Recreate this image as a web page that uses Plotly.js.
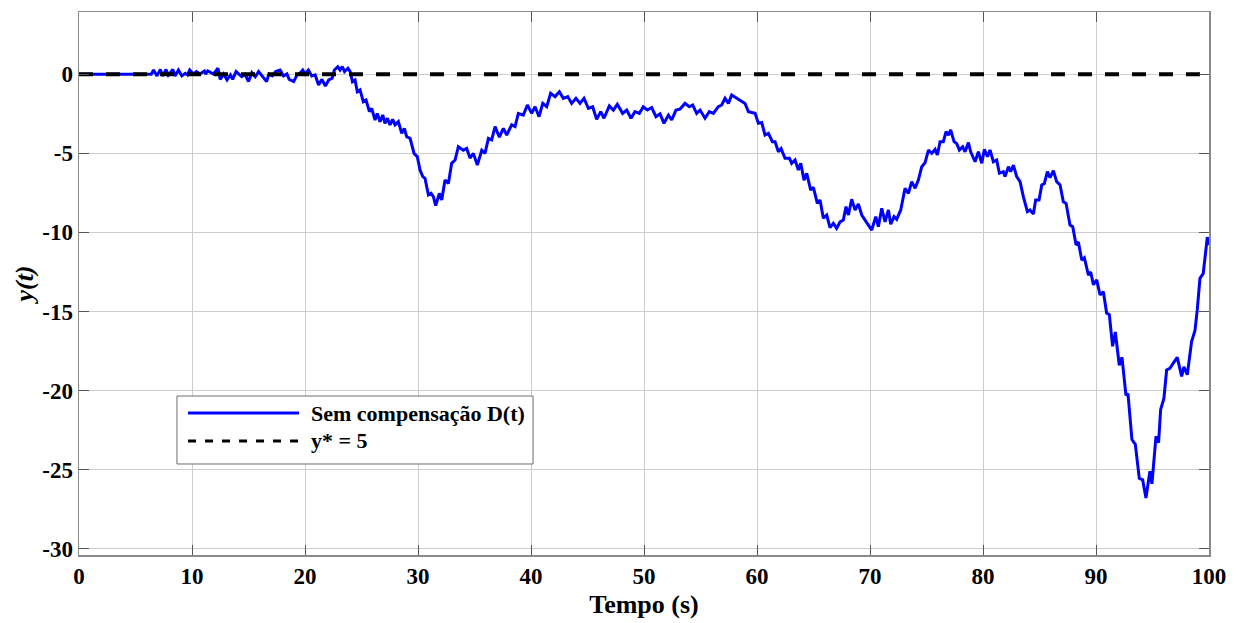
<!DOCTYPE html>
<html>
<head>
<meta charset="utf-8">
<script src="https://cdn.plot.ly/plotly-3.0.1.min.js"></script>
<style>html,body{margin:0;padding:0;background:#fff;}#chart{width:1243px;height:623px;}
#chart .xtick text, #chart .ytick text{font-weight:bold !important;}</style>
</head>
<body>
<div id="chart"></div>
<script>
// Time (s)
const timeS = [0,6.4,6.6,6.9,7.2,7.4,7.7,7.9,8.3,8.5,8.8,9.1,9.4,9.6,9.8,10.1,10.4,10.7,11.1,11.2,11.4,11.9,
 12.3,12.5,12.8,13.1,13.4,13.6,13.9,14.2,14.4,14.7,15.0,15.3,15.6,15.9,16.2,16.6,16.8,17.1,17.4,17.8,18.1,18.4,18.6,19.0,19.3,19.6,19.8,
 20.0,20.3,20.6,20.9,21.2,21.5,21.8,22.1,22.4,22.6,22.9,23.1,23.3,23.5,23.8,24.0,
 24.2,24.43,24.63,24.87,25.16,25.4,25.7,25.9,26.2,26.4,26.64,26.88,27.08,27.29,27.52,27.76,27.97,28.26,28.56,28.79,29.0,29.3,29.44,29.65,
 29.94,30.18,30.42,30.62,30.92,31.15,31.36,31.57,31.89,32.1,32.39,32.69,32.98,33.28,33.57,
 34.01,34.31,34.6,34.9,35.25,35.64,35.93,36.23,36.52,36.82,37.2,37.55,37.85,38.29,38.59,38.88,39.32,39.68,40.06,40.36,40.71,41.04,41.39,
 41.74,42.13,42.51,42.86,43.25,43.6,43.98,44.34,44.69,45.08,45.46,45.81,46.17,46.46,46.93,47.29,47.64,48.11,48.47,48.85,49.2,49.59,49.94,
 50.3,50.68,51.06,51.42,51.77,52.16,52.45,52.83,53.19,53.63,54.01,54.31,54.66,54.96,55.4,55.78,56.14,56.58,56.88,57.17,57.47,57.76,58.2,
 58.5,58.94,59.24,59.83,60.12,60.42,60.71,61.01,61.36,61.6,61.89,62.13,62.48,62.87,63.07,63.37,63.66,63.87,64.16,64.4,64.75,64.99,65.34,
 65.58,65.87,66.17,66.46,66.76,67.05,67.35,67.64,67.88,68.09,68.38,68.68,68.97,69.27,69.56,69.86,70.15,70.51,70.74,71.04,71.33,71.63,71.83,
 72.13,72.36,72.72,73.1,73.4,73.69,73.99,74.28,74.58,74.87,75.17,75.46,75.76,75.96,76.2,76.49,76.73,76.94,77.14,77.44,77.67,77.91,78.2,
 78.41,78.71,78.91,79.3,79.59,79.89,80.12,80.39,80.62,80.92,81.21,81.45,81.8,81.95,82.25,82.45,82.69,82.98,83.28,83.57,83.93,84.16,84.46,
 84.66,84.96,85.2,85.43,85.7,85.93,86.23,86.52,86.82,87.11,87.35,87.7,87.94,88.24,88.44,88.74,88.97,89.33,89.53,89.77,90.06,90.36,90.65,
 90.94,91.18,91.47,91.71,92.06,92.3,92.65,92.83,93.18,93.48,93.83,94.13,94.42,94.77,94.95,95.31,95.54,95.72,96.01,96.25,96.54,96.9,97.19,
 97.58,97.78,98.08,98.46,98.76,98.96,99.2,99.49,99.85,100];
// y(t) without compensation D(t)
const ySemCompensacao = [0,0,0.27,-0.1,0.3,-0.1,0.3,-0.05,0.3,-0.1,0.27,-0.1,0.06,-0.04,0.27,0.02,0.17,0.02,0.21,0.02,0.21,0.02,
 0.38,-0.32,0.02,-0.36,-0.04,-0.32,0.17,-0.04,-0.15,0,-0.46,0.1,-0.15,0.17,-0.1,-0.46,0.02,-0.1,0.17,0.27,-0.1,0.02,-0.32,-0.46,-0.04,0.1,0.27,
 0.02,0.27,-0.1,-0.04,-0.67,-0.32,-0.74,-0.36,-0.25,0.27,0.48,0.27,0.48,0.17,0.38,0.17,
 -0.47,-0.36,-1.1,-0.99,-1.73,-1.63,-2.36,-2.15,-2.89,-2.47,-3.0,-2.57,-3.1,-2.78,-3.2,-2.85,-3.2,-2.99,-3.73,-3.42,-3.95,-4.05,-4.47,-5.0,
 -5.21,-6.05,-6.47,-6.58,-7.63,-7.53,-7.74,-8.31,-7.53,-7.95,-6.69,-6.9,-5.63,-5.42,-4.58,
 -4.8,-4.69,-5.3,-5.0,-5.74,-4.8,-5.0,-4.05,-4.15,-3.31,-3.98,-3.42,-3.84,-3.2,-3.31,-2.47,-2.58,-1.94,-2.47,-2.05,-2.68,-1.84,-2.05,
 -1.2,-1.41,-1.1,-1.52,-1.41,-1.84,-1.52,-1.84,-1.52,-2.15,-2.05,-2.85,-2.36,-2.78,-2.0,-2.26,-1.9,-2.47,-2.26,-2.78,-2.36,-2.47,-2.05,
 -2.26,-2.1,-2.68,-2.5,-3.1,-2.58,-2.89,-2.26,-2.2,-1.84,-2.05,-1.94,-2.47,-2.26,-2.78,-2.36,-2.47,-2.05,-1.94,-1.52,-1.84,-1.31,-1.52,
 -1.63,-1.84,-2.36,-2.47,-3.1,-3.05,-3.84,-3.73,-4.26,-4.26,-4.9,-4.7,-5.31,-5.31,-5.63,-5.42,-6.05,-5.63,-6.69,-6.26,-7.32,-7.15,-8.16,
 -7.95,-9.1,-8.9,-9.7,-9.43,-9.74,-9.33,-9.22,-8.37,-8.9,-7.9,-8.58,-8.2,-8.9,-9.22,-9.53,-9.85,-9.0,-9.64,-8.48,-9.33,-8.58,-9.48,
 -9.0,-9.17,-8.58,-7.21,-7.53,-6.79,-7.21,-6.69,-5.84,-5.6,-4.79,-5.0,-4.75,-5.1,-4.26,-4.26,-3.63,-3.84,-3.52,-4.26,-4.37,-4.79,-4.58,
 -4.9,-4.32,-4.9,-5.53,-4.9,-5.63,-4.75,-5.21,-4.79,-5.53,-5.42,-6.26,-6.16,-6.47,-5.84,-6.16,-5.74,-6.47,-6.79,-7.74,-8.69,-8.58,-8.84,
 -7.95,-7.95,-7.0,-6.9,-6.16,-6.53,-6.1,-6.79,-7.0,-8.06,-8.16,-9.53,-9.64,-10.8,-10.6,-11.75,-11.6,-12.7,-12.5,-13.3,-13.0,-13.96,-13.75,
 -15.1,-15.2,-17.2,-16.3,-18.4,-17.9,-20.3,-20.2,-23.1,-23.4,-25.55,-25.65,-26.8,-25.1,-25.9,-22.9,-23.3,-21.2,-20.5,-18.7,-18.6,-18.2,-17.9,
 -19.1,-18.5,-19.0,-16.9,-16.2,-14.9,-12.9,-12.6,-10.3,-10.8];
// Reference y*
const refTime = [0, 100];
const refValue = [0, 0];
const legendLabels = ["Sem compensação D(t)", "y* = 5"];
const xTickVals = [0,10,20,30,40,50,60,70,80,90,100];
const yTickVals = [-30,-25,-20,-15,-10,-5,0];

const FONT = "Liberation Serif";

const traces = [
  {x: timeS, y: ySemCompensacao, type: 'scatter', mode: 'lines', name: legendLabels[0],
   line: {color: '#0000ff', width: 3}, showlegend: false},
  {x: refTime, y: refValue, type: 'scatter', mode: 'lines', name: legendLabels[1],
   line: {color: '#000000', width: 4, dash: '14px,13px'}, showlegend: false}
];

const axisCommon = {
  showgrid: true, gridcolor: '#cdcdcd', gridwidth: 1,
  zeroline: false, showline: true, linecolor: '#8a8a8a', linewidth: 1.5,
  mirror: 'ticks', ticks: 'inside', ticklen: 10, tickcolor: '#555', tickwidth: 1,
  tickfont: {family: FONT, size: 23, color: '#000', weight: 'bold'}
};

const layout = {
  width: 1243, height: 623,
  margin: {l: 79, r: 34, t: 12, b: 68},
  paper_bgcolor: '#fff', plot_bgcolor: '#fff',
  showlegend: false,
  xaxis: Object.assign({}, axisCommon, {
    range: [0, 100], tickvals: xTickVals, ticktext: xTickVals.map(v => '<b>' + v + '</b>'),
    title: {text: '<b>Tempo (s)</b>', font: {family: FONT, size: 26, color: '#000'}, standoff: 6}
  }),
  yaxis: Object.assign({}, axisCommon, {
    range: [-30.4, 3.94], tickvals: yTickVals, ticktext: yTickVals.map(v => '<b>' + v + '</b>'),
    title: {text: '<b><i>y(t)</i></b>', font: {family: FONT, size: 26, color: '#000'}, standoff: 1}
  }),
  shapes: [
    {type: 'rect', xref: 'paper', yref: 'paper', x0: 0.0867, x1: 0.4018, y0: 0.1676, y1: 0.2928,
     line: {color: '#6e6e6e', width: 1}, fillcolor: '#fff', layer: 'above'},
    {type: 'line', xref: 'paper', yref: 'paper', x0: 0.0965, x1: 0.1947, y0: 0.2615, y1: 0.2615,
     line: {color: '#0000ff', width: 3}, layer: 'above'},
    {type: 'line', xref: 'paper', yref: 'paper', x0: 0.0965, x1: 0.1947, y0: 0.21, y1: 0.21,
     line: {color: '#000', width: 3, dash: '8px,9px'}, layer: 'above'}
  ],
  annotations: [
    {xref: 'paper', yref: 'paper', x: 0.2035, y: 0.2615, xanchor: 'left', yanchor: 'middle', showarrow: false,
     text: '<b>' + legendLabels[0] + '</b>', font: {family: FONT, size: 22, color: '#000'}},
    {xref: 'paper', yref: 'paper', x: 0.2035, y: 0.21, xanchor: 'left', yanchor: 'middle', showarrow: false,
     text: '<b>' + legendLabels[1] + '</b>', font: {family: FONT, size: 22, color: '#000'}}
  ]
};

Plotly.newPlot('chart', traces, layout, {displayModeBar: false, staticPlot: true});
</script>
</body>
</html>
